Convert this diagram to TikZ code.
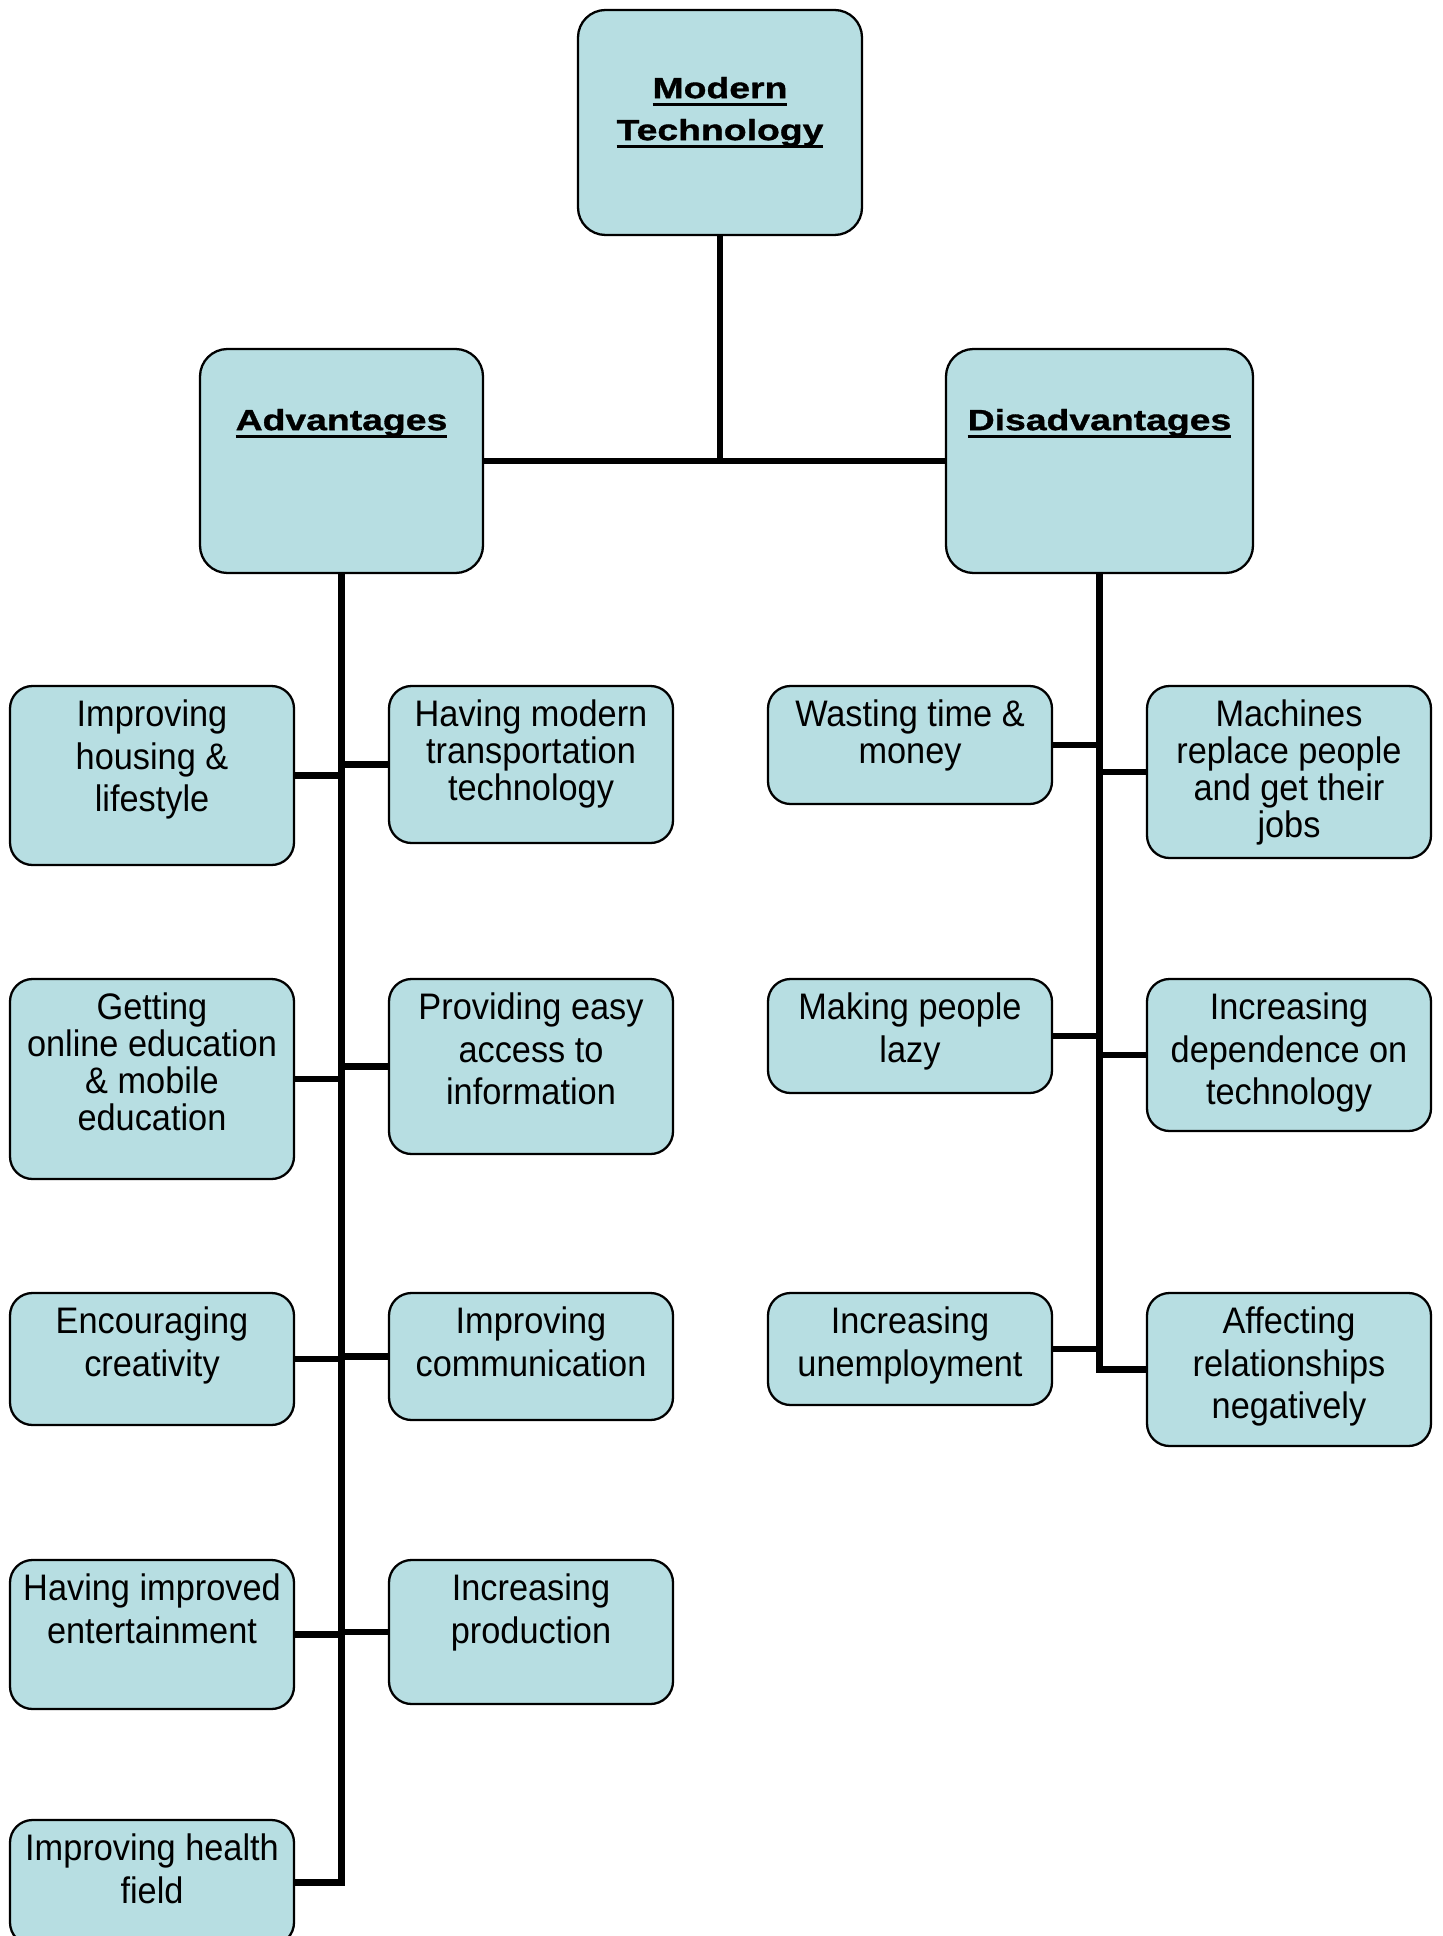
\documentclass[tikz,border=0pt]{standalone}
\usepackage{fontspec}
\setmainfont[FakeStretch=0.93]{Liberation Sans}
\newfontfamily\titlefont[FakeStretch=1.28,FakeBold=1.2]{Liberation Sans Bold}
\definecolor{boxfill}{RGB}{183,222,226}
\newcommand{\headline}[1]{\leavevmode\setbox0\hbox{#1}\rlap{\rule[-4.4pt]{\wd0}{1.4pt}}\box0}
\newcommand{\boxtext}[3][24.2]{\parbox[c][#2][t]{5.6cm}{\centering\fontsize{21}{#1}\selectfont\vspace*{0.28cm}#3}}
\newcommand{\titletext}[3]{\parbox[c][#1][t]{5.4cm}{\centering\titlefont\fontsize{16.6}{23.9}\selectfont\vspace*{#2}#3}}

\begin{document}
\begin{tikzpicture}[
  tbox/.style={draw=black,line width=1.3pt,fill=boxfill,rounded corners=0.45cm,inner sep=0pt,minimum width=5.68cm},
  link/.style={draw=black,line width=3.5pt}]
\useasboundingbox (0,0) rectangle (28.84,-38.72);

% headings
\node[tbox,rounded corners=0.55cm] (top) at (14.4,-2.45) {\titletext{4.5cm}{1.34cm}{\headline{Modern}\\\headline{Technology}}};
\node[tbox,rounded corners=0.55cm,minimum width=5.66cm] (adv) at (6.83,-9.22) {\titletext{4.48cm}{1.2cm}{\headline{Advantages}}};
\node[tbox,rounded corners=0.55cm,minimum width=6.14cm] (dis) at (21.99,-9.22) {\titletext{4.48cm}{1.2cm}{\headline{Disadvantages}}};

% advantages
\node[tbox] (housing) at (3.04,-15.51) {\boxtext{3.58cm}{Improving\\housing \&\\lifestyle}};
\node[tbox] (online) at (3.04,-21.58) {\boxtext[21]{4.0cm}{Getting\\online education\\\& mobile\\education}};
\node[tbox] (creativity) at (3.04,-27.18) {\boxtext{2.64cm}{Encouraging\\creativity}};
\node[tbox] (entertain) at (3.04,-32.69) {\boxtext{2.98cm}{Having improved\\entertainment}};
\node[tbox] (health) at (3.04,-37.65) {\boxtext{2.5cm}{Improving health\\field}};
\node[tbox] (transport) at (10.62,-15.29) {\boxtext[21]{3.14cm}{Having modern\\transportation\\technology}};
\node[tbox] (access) at (10.62,-21.33) {\boxtext{3.5cm}{Providing easy\\access to\\information}};
\node[tbox] (communic) at (10.62,-27.13) {\boxtext{2.54cm}{Improving\\communication}};
\node[tbox] (production) at (10.62,-32.64) {\boxtext{2.88cm}{Increasing\\production}};

% disadvantages
\node[tbox] (wasting) at (18.2,-14.9) {\boxtext[21]{2.36cm}{Wasting time \&\\money}};
\node[tbox] (lazy) at (18.2,-20.72) {\boxtext{2.28cm}{Making people\\lazy}};
\node[tbox] (unemploy) at (18.2,-26.98) {\boxtext{2.24cm}{Increasing\\unemployment}};
\node[tbox] (machines) at (25.78,-15.44) {\boxtext[21]{3.44cm}{Machines\\replace people\\and get their\\jobs}};
\node[tbox] (depend) at (25.78,-21.1) {\boxtext{3.04cm}{Increasing\\dependence on\\technology}};
\node[tbox] (relation) at (25.78,-27.39) {\boxtext{3.06cm}{Affecting\\relationships\\negatively}};

\draw[link] (top.south) -- (top.south |- adv.east);
\draw[link] (adv.east) -- (dis.west);

\draw[link] (adv.south) |- (health.east);
\foreach \n in {housing,online,creativity,entertain}
  \draw[link] (\n.east) -- (\n.east -| adv.south);
\foreach \n in {transport,access,communic,production}
  \draw[link] (\n.west) -- (\n.west -| adv.south);

\draw[link] (dis.south) |- (relation.west);
\foreach \n in {wasting,lazy,unemploy}
  \draw[link] (\n.east) -- (\n.east -| dis.south);
\foreach \n in {machines,depend}
  \draw[link] (\n.west) -- (\n.west -| dis.south);

\end{tikzpicture}
\end{document}
